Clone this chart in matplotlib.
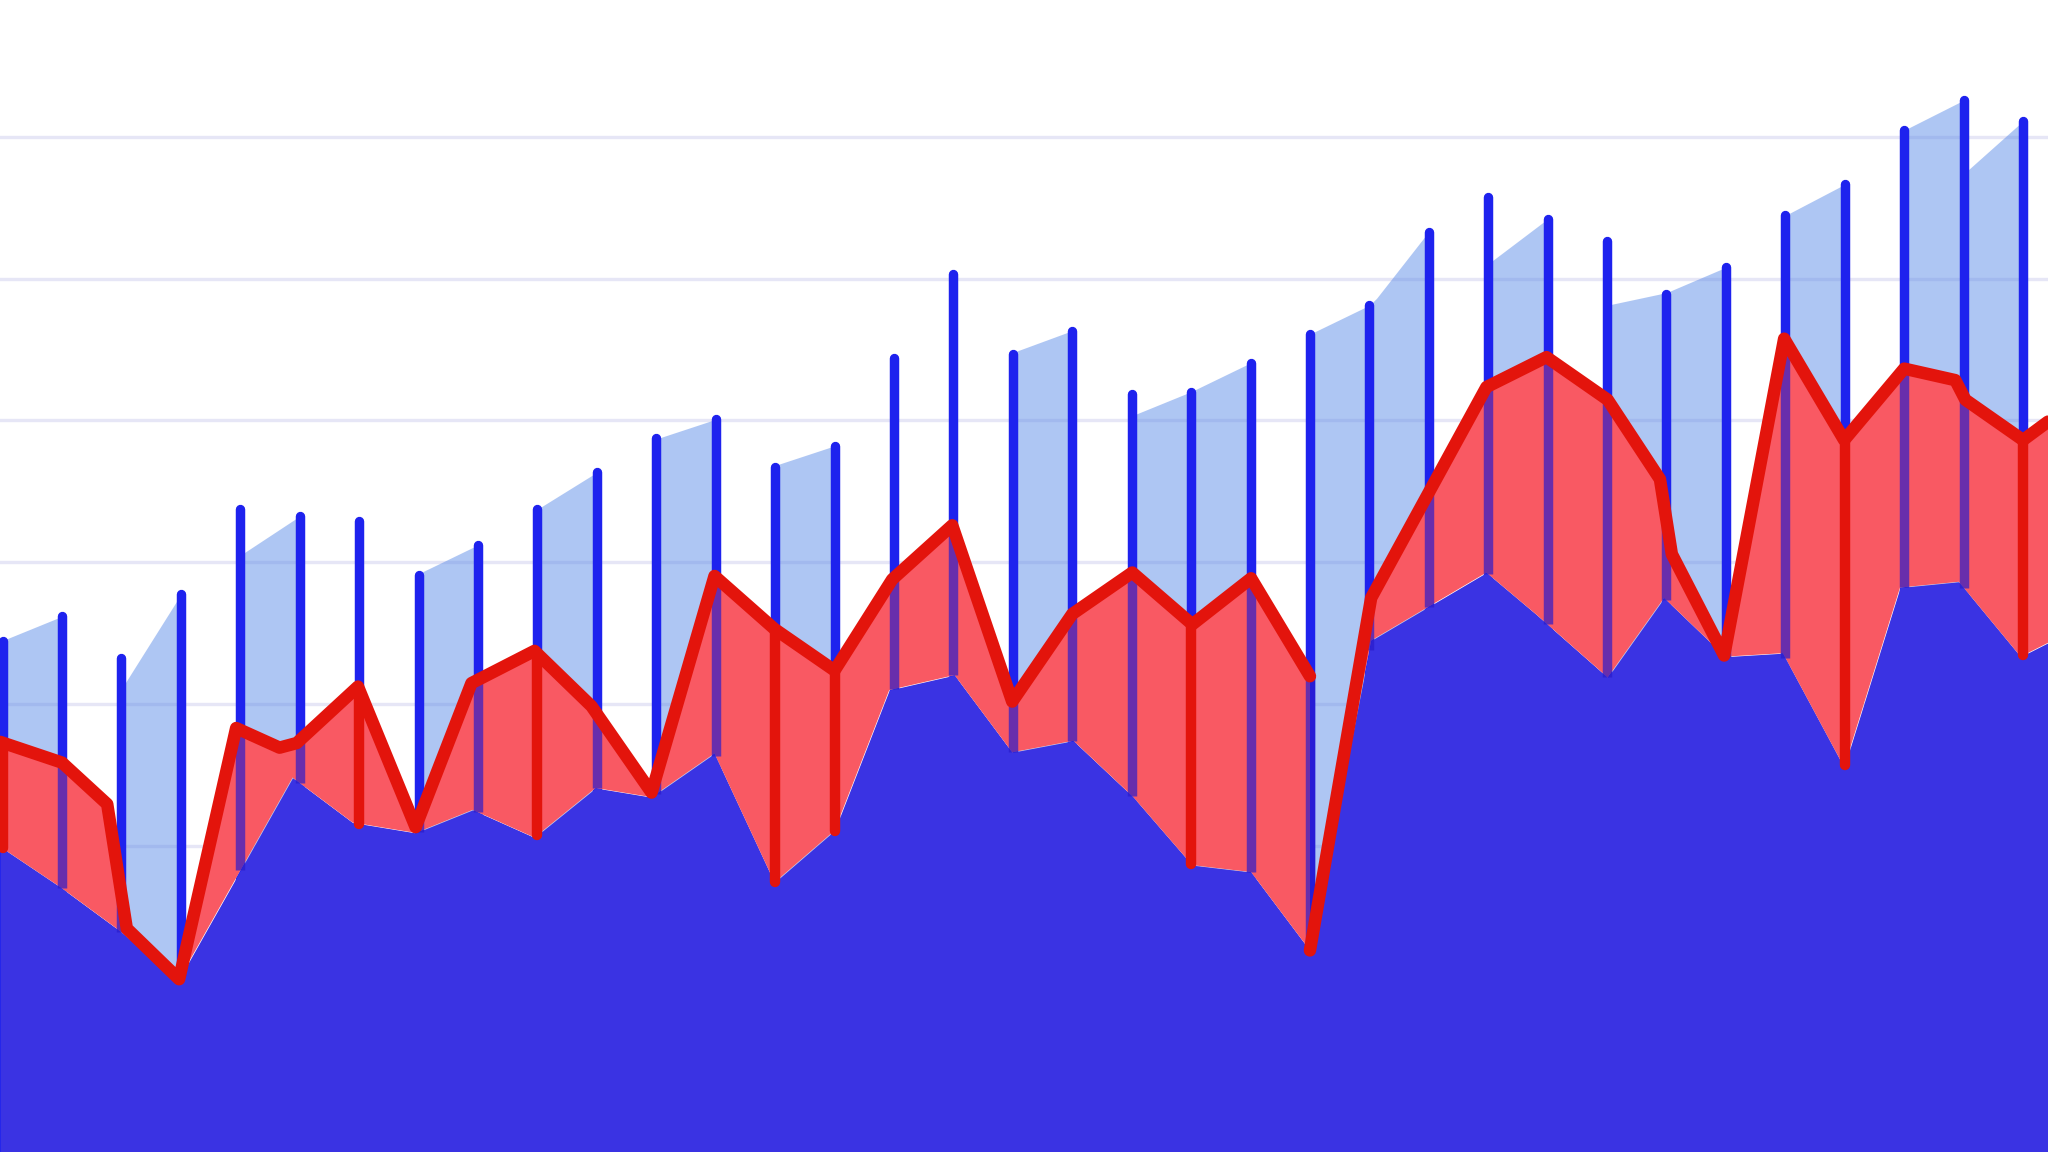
import numpy as np
import matplotlib.pyplot as plt

# tall blue bars, one per period
bar_idx = np.arange(35)
bar_top = [44.4, 46.5, 42.9, 48.4, 55.8, 55.2, 54.8, 50.1, 52.7, 55.8,
           59.0, 62.0, 63.6, 59.5, 61.3, 68.9, 76.2, 69.3, 71.3, 65.8,
           66.0, 68.5, 71.0, 73.5, 79.9, 82.9, 81.0, 79.1, 74.5, 76.8,
           81.3, 84.0, 88.7, 91.3, 89.5]

# red line, two pieces (it breaks at period 22)
red_x_a = [-0.04, 1.0, 1.76, 2.09, 2.97, 3.93, 4.66, 4.95, 5.98, 6.95, 7.89,
           8.95, 9.91, 10.92, 11.98, 12.99, 14.0, 14.97, 15.98, 16.99, 18.0,
           19.01, 20.02, 21.01, 22.0]
red_y_a = [35.6, 33.8, 30.2, 19.4, 15.0, 36.8, 35.1, 35.5, 40.4, 28.2, 40.7,
           43.5, 38.7, 31.2, 50.0, 45.4, 41.8, 49.7, 54.4, 39.1, 46.7,
           50.3, 45.8, 49.8, 41.3]
red_x_b = [22.0, 23.03, 24.97, 25.98, 27.01, 27.89, 28.09, 28.97, 29.98,
           30.99, 32.0, 32.86, 33.03, 34.0, 34.42]
red_y_b = [17.5, 48.1, 66.4, 69.0, 65.3, 58.4, 51.9, 43.1, 70.6,
           61.8, 68.0, 67.0, 65.3, 61.8, 63.4]

# solid blue area at the bottom
blue_x = [-0.04, 0.97, 1.92, 2.97, 4.88, 5.89, 6.95, 7.91, 8.95, 9.98, 10.92,
          11.98, 12.99, 14.0, 14.92, 16.02, 16.99, 18.02, 19.03, 20.02, 21.01,
          22.0, 23.03, 24.97, 25.8, 27.01, 27.96, 28.99, 29.96, 30.99, 31.93,
          32.92, 33.96, 34.42]
blue_y = [26.5, 23.0, 19.4, 15.0, 32.5, 28.6, 27.7, 29.7, 27.3, 31.6, 30.8,
          34.6, 23.4, 27.9, 40.1, 41.4, 34.7, 35.7, 30.8, 24.9, 24.3,
          17.5, 44.4, 50.3, 46.7, 41.2, 48.1, 43.0, 43.3, 33.4, 49.0,
          49.5, 43.0, 44.2]

# light blue bands between pairs of bars
light_bands = [
    ([0, 1], [44.4, 46.5]),
    ([2, 3], [40.2, 48.4]),
    ([4, 5], [51.8, 55.2]),
    ([7, 8], [50.2, 52.7]),
    ([9, 10], [55.8, 59.0]),
    ([11, 12], [61.9, 63.6]),
    ([13, 14], [59.6, 61.3]),
    ([17, 18], [69.4, 71.3]),
    ([19, 20, 21], [63.9, 66.0, 68.5]),
    ([22, 23, 23.12, 24], [71.0, 73.5, 74.1, 79.9]),
    ([25, 26], [77.1, 81.0]),
    ([27, 28, 29], [73.5, 74.6, 76.8]),
    ([30, 31], [81.3, 84.0]),
    ([32, 33], [88.7, 91.3]),
    ([33, 34], [84.9, 89.5]),
]

# bars that turn red below the red line
red_drops = [0, 6, 9, 13, 14, 20, 31, 34]

grid_levels = [26.6, 38.9, 51.2, 63.5, 75.8, 88.1]

BAR = "#1e22ee"
RED = "#e3140c"

fig = plt.figure(figsize=(20.48, 11.52), dpi=100)
ax = fig.add_axes([0, 0, 1, 1])
ax.set_xlim(-0.044, 34.42)
ax.set_ylim(0, 100)
ax.axis("off")

for g in grid_levels:
    ax.axhline(g, color="#e6e6f6", lw=2.4, zorder=0)

for xs, ys in light_bands:
    ax.fill_between(xs, ys, 0, color="#5f8ee8", alpha=0.5, lw=0, zorder=1)

bars = ax.vlines(bar_idx, 0, bar_top, color=BAR, lw=6.8, zorder=2)
bars.set_capstyle("round")

ax.fill_between(blue_x, blue_y, 0, color="#3a33e3", lw=0, zorder=3)

# red band between the red line and the blue area
bx = np.array(blue_x)
by = np.array(blue_y)
left = bx <= 22.0
right = bx >= 22.0
bands = [
    (list(red_x_a) + list(bx[left][::-1]), list(red_y_a) + list(by[left][::-1])),
    (list(red_x_b) + list(bx[right][::-1]), list(red_y_b) + list(by[right][::-1])),
]
for px, py in bands:
    ax.fill(px, py, color="white", lw=0, zorder=3.9)
    ax.fill(px, py, color="#f70010", alpha=0.65, lw=0, zorder=4)


def red_at(i):
    if i <= 22:
        return np.interp(i, red_x_a, red_y_a)
    return np.interp(i, red_x_b, red_y_b)


# bars show through the red band
for i in bar_idx:
    lo = np.interp(i, blue_x, blue_y)
    hi = min(red_at(i), bar_top[i])
    if i in red_drops:
        ax.plot([i, i], [lo, hi], color=RED, lw=7.5,
                solid_capstyle="round", zorder=5)
    elif hi > lo:
        ax.plot([i, i], [lo, hi], color="#2a1ccc", lw=6.8, alpha=0.7,
                solid_capstyle="butt", zorder=4.5)

ax.plot(red_x_a, red_y_a, color=RED, lw=9,
        solid_joinstyle="round", solid_capstyle="round", zorder=6)
ax.plot(red_x_b, red_y_b, color=RED, lw=9,
        solid_joinstyle="round", solid_capstyle="round", zorder=6)

fig.savefig("out.png", dpi=100, facecolor="white")
